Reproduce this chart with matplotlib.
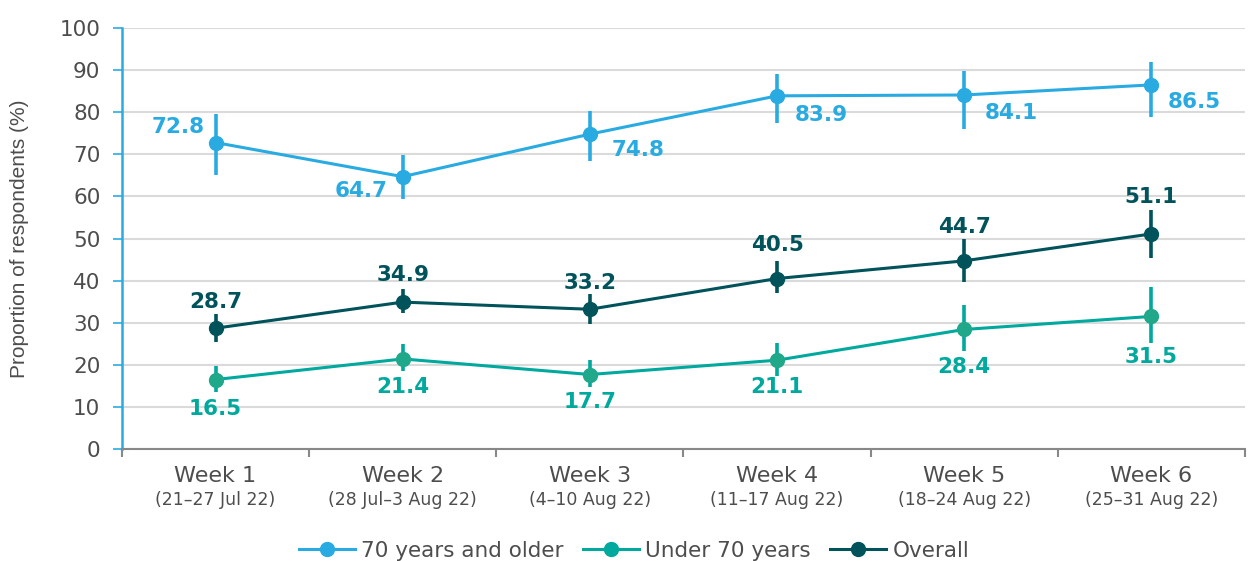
import matplotlib.pyplot as plt
import matplotlib.transforms as mtransforms
from matplotlib.lines import Line2D
import numpy as np

weeks = ["Week 1", "Week 2", "Week 3", "Week 4", "Week 5", "Week 6"]
dates = ["(21\u201327 Jul 22)", "(28 Jul\u20133 Aug 22)", "(4\u201310 Aug 22)",
         "(11\u201317 Aug 22)", "(18\u201324 Aug 22)", "(25\u201331 Aug 22)"]

# values and confidence interval bounds
older = [72.8, 64.7, 74.8, 83.9, 84.1, 86.5]
older_lo = [65.2, 59.5, 68.5, 77.4, 76.1, 78.9]
older_hi = [79.5, 69.8, 80.4, 89.1, 89.8, 92.0]

under = [16.5, 21.4, 17.7, 21.1, 28.4, 31.5]
under_lo = [13.6, 18.6, 14.8, 17.4, 23.3, 25.3]
under_hi = [19.7, 24.9, 21.1, 25.1, 34.2, 38.6]

overall = [28.7, 34.9, 33.2, 40.5, 44.7, 51.1]
overall_lo = [25.5, 32.2, 29.7, 37.0, 39.6, 45.4]
overall_hi = [32.1, 37.9, 36.8, 44.7, 49.8, 56.8]

c_older = "#29abe2"
c_under = "#00a99d"
c_under_m = "#1fa88a"
c_overall = "#00535a"
grey = "#4d4d4d"

plt.rcParams['font.family'] = ['DejaVu Sans']

fig = plt.figure(figsize=(12.52, 5.61), dpi=100)
ax = fig.add_axes([0.0974, 0.1996, 0.897, 0.7504])

x = np.arange(len(weeks)) + 0.5

def series(vals, lo, hi, color, mcolor=None):
    v = np.array(vals)
    yerr = [v - np.array(lo), np.array(hi) - v]
    ax.errorbar(x, v, yerr=yerr, color=color, lw=2.2, elinewidth=2.6,
                marker='o', ms=10, mfc=mcolor or color, mec=mcolor or color,
                capsize=0, zorder=3)

series(older, older_lo, older_hi, c_older)
series(under, under_lo, under_hi, c_under, mcolor=c_under_m)
series(overall, overall_lo, overall_hi, c_overall)

lab = dict(fontsize=15.5, fontweight='bold')
# label offsets in points
off_older = [(-27, 11.5), (-30, -10), (35, -11.5), (32, -14), (34, -13), (31, -12)]
for xi, v, (dx, dy) in zip(x, older, off_older):
    ax.annotate(f"{v:.1f}", (xi, v), xytext=(dx, dy), textcoords='offset points',
                ha='center', va='center', color=c_older, **lab)
off_overall = [19, 19.5, 19, 24.5, 24.5, 26.6]
for xi, v, dy in zip(x, overall, off_overall):
    ax.annotate(f"{v:.1f}", (xi, v), xytext=(0, dy), textcoords='offset points',
                ha='center', va='center', color=c_overall, **lab)
off_under = [-21, -20, -20, -19.5, -27, -29.5]
for xi, v, dy in zip(x, under, off_under):
    ax.annotate(f"{v:.1f}", (xi, v), xytext=(0, dy), textcoords='offset points',
                ha='center', va='center', color=c_under, **lab)

ax.set_xlim(0, 6)
ax.set_ylim(0, 100)
ax.set_yticks(range(0, 101, 10))
ax.set_xticks(range(0, 7))
ax.set_xticklabels([])
ax.tick_params(axis='y', labelsize=15.5, labelcolor=grey, color=c_older,
               length=6.5, width=1.2, pad=9)
ax.tick_params(axis='x', color="#888888", length=6, width=1.5, direction='out')
ax.yaxis.grid(True, color="#dadada", lw=1.5)
ax.set_axisbelow(True)
for s in ['top', 'right']:
    ax.spines[s].set_visible(False)
ax.spines['left'].set_color(c_older)
ax.spines['left'].set_linewidth(1.8)
ax.spines['bottom'].set_color("#888888")
ax.spines['bottom'].set_linewidth(1.5)

tr = mtransforms.blended_transform_factory(ax.transData, ax.transAxes)
for xi, w, d in zip(x, weeks, dates):
    ax.text(xi, -0.065, w, transform=tr, ha='center', va='center', fontsize=16, color=grey)
    ax.text(xi, -0.122, d, transform=tr, ha='center', va='center', fontsize=12.5, color=grey)

ax.set_ylabel("Proportion of respondents (%)", fontsize=15, color=grey,
              family=['Liberation Sans Narrow', 'Liberation Sans'])
ax.yaxis.set_label_coords(-0.083, 0.5)

handles = [Line2D([], [], color=c, lw=2.2, marker='o', ms=10, mfc=m, mec=m)
           for c, m in [(c_older, c_older), (c_under, c_under), (c_overall, c_overall)]]
ax.legend(handles, ["70 years and older", "Under 70 years", "Overall"],
          loc='center', bbox_to_anchor=(0.456, -0.242), ncol=3, frameon=False,
          fontsize=15.5, handlelength=2.6, handletextpad=0.3, columnspacing=0.9,
          labelcolor=grey)

fig.savefig("out.png", dpi=100)
